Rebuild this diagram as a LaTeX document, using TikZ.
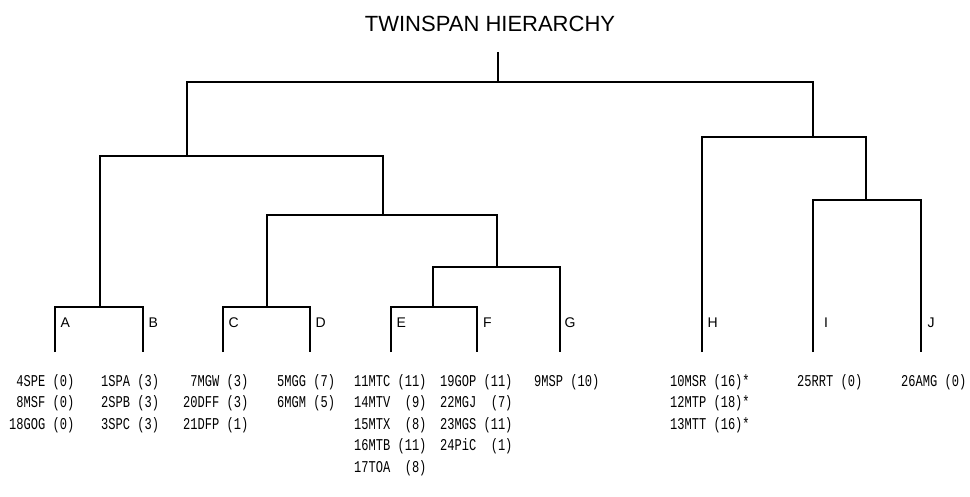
\documentclass[tikz,border=0pt]{standalone}
\usepackage{fontspec}
\setmainfont{Liberation Sans}
\newfontfamily\leaffont[FakeStretch=0.73]{Liberation Mono}
\newcommand{\pd}{\hphantom{0}}
\begin{document}
\begin{tikzpicture}[x=1pt,y=-1pt,
  branch/.style={line width=1.5pt},
  grp/.style={anchor=base west, inner sep=0pt, font=\fontsize{14}{16}\selectfont},
  leaf/.style={anchor=base west, inner sep=0pt, font=\leaffont\fontsize{16.5}{21.5}\selectfont},
]
\useasboundingbox (0,0) rectangle (970,497);
\node[inner sep=0pt, font=\fontsize{22}{26}\selectfont] (title) at (490,23.5) {TWINSPAN HIERARCHY};

% junctions and leaf ends
\coordinate (top) at (498,52);
\coordinate (n0) at (498,82);
\coordinate (nL) at (187,156);
\coordinate (nR) at (813,137);
\coordinate (nAB) at (100,307);
\coordinate (nCG) at (383,215);
\coordinate (nCD) at (267,307);
\coordinate (nEG) at (497,267);
\coordinate (nEF) at (433,307);
\coordinate (nIJ) at (866,200);
\coordinate (lA) at (55,352);
\coordinate (lB) at (143,352);
\coordinate (lC) at (223,352);
\coordinate (lD) at (310,352);
\coordinate (lE) at (391,352);
\coordinate (lF) at (477,352);
\coordinate (lG) at (560,352);
\coordinate (lH) at (702,352);
\coordinate (lI) at (813,352);
\coordinate (lJ) at (921,352);

\draw[branch] (top) -- (n0);
\draw[branch] (nL) |- (n0) -| (nR);
\draw[branch] (nAB) |- (nL) -| (nCG);
\draw[branch] (lA) |- (nAB) -| (lB);
\draw[branch] (nCD) |- (nCG) -| (nEG);
\draw[branch] (lC) |- (nCD) -| (lD);
\draw[branch] (nEF) |- (nEG) -| (lG);
\draw[branch] (lE) |- (nEF) -| (lF);
\draw[branch] (lH) |- (nR) -| (nIJ);
\draw[branch] (lI) |- (nIJ) -| (lJ);

% group letters
\node[grp] (A) at (60.5,327) {A};
\node[grp] (B) at (148.5,327) {B};
\node[grp] (C) at (228.5,327) {C};
\node[grp] (D) at (315.5,327) {D};
\node[grp] (E) at (396.5,327) {E};
\node[grp] (F) at (483,327) {F};
\node[grp] (G) at (564.5,327) {G};
\node[grp] (H) at (707.5,327) {H};
\node[grp] (I) at (824,327) {I};
\node[grp] (J) at (927.5,327) {J};

% leaf lists
\node[leaf] (tA) at (9,386) {\begin{tabular}[t]{@{}l@{}}\pd 4SPE (0)\\ \pd 8MSF (0)\\ 18GOG (0)\end{tabular}};
\node[leaf] (tB) at (101,386) {\begin{tabular}[t]{@{}l@{}}1SPA (3)\\ 2SPB (3)\\ 3SPC (3)\end{tabular}};
\node[leaf] (tC) at (183,386) {\begin{tabular}[t]{@{}l@{}}\pd 7MGW (3)\\ 20DFF (3)\\ 21DFP (1)\end{tabular}};
\node[leaf] (tD) at (277,386) {\begin{tabular}[t]{@{}l@{}}5MGG (7)\\ 6MGM (5)\end{tabular}};
\node[leaf] (tE) at (354,386) {\begin{tabular}[t]{@{}l@{}}11MTC (11)\\ 14MTV \pd(9)\\ 15MTX \pd(8)\\ 16MTB (11)\\ 17TOA \pd(8)\end{tabular}};
\node[leaf] (tF) at (440,386) {\begin{tabular}[t]{@{}l@{}}19GOP (11)\\ 22MGJ \pd(7)\\ 23MGS (11)\\ 24PiC \pd(1)\end{tabular}};
\node[leaf] (tG) at (534,386) {\begin{tabular}[t]{@{}l@{}}9MSP (10)\end{tabular}};
\node[leaf] (tH) at (670,386) {\begin{tabular}[t]{@{}l@{}}10MSR (16)*\\ 12MTP (18)*\\ 13MTT (16)*\end{tabular}};
\node[leaf] (tI) at (797,386) {\begin{tabular}[t]{@{}l@{}}25RRT (0)\end{tabular}};
\node[leaf] (tJ) at (901,386) {\begin{tabular}[t]{@{}l@{}}26AMG (0)\end{tabular}};
\end{tikzpicture}
\end{document}
